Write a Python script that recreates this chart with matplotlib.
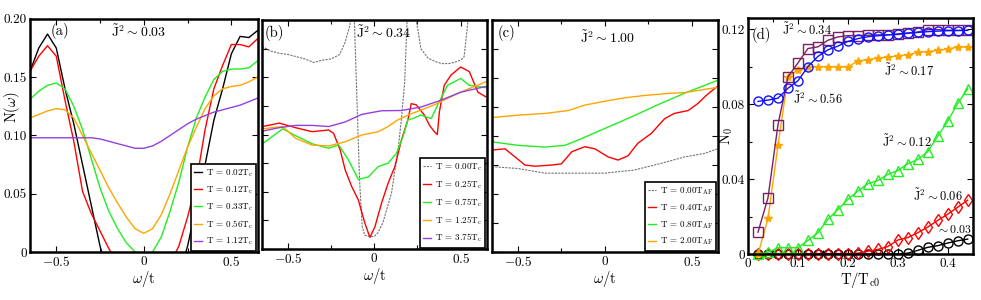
import numpy as np
import matplotlib
matplotlib.use("Agg")
import matplotlib.pyplot as plt
from matplotlib.ticker import MultipleLocator

plt.rcParams["font.family"] = "serif"
plt.rcParams["font.serif"] = ["cmr10", "DejaVu Serif"]
plt.rcParams["mathtext.fontset"] = "cm"
plt.rcParams["axes.formatter.use_mathtext"] = True
plt.rcParams.update({'font.size': 10.5})

#%% panel (a) data, J^2 ~ 0.03
omega_a = [-0.65, -0.60, -0.55, -0.50, -0.45, -0.40, -0.35, -0.30, -0.25, -0.20,
           -0.15, -0.10, -0.05, 0.0, 0.05, 0.10, 0.15, 0.20, 0.25, 0.30,
           0.35, 0.40, 0.45, 0.50, 0.55, 0.60, 0.65]
a_T002 = [0.155, 0.175, 0.187, 0.175, 0.140, 0.110, 0.075, 0.040, 0.005, -0.02,
          -0.03, -0.03, -0.03, -0.03, -0.03, -0.03, -0.03, -0.02, 0.005, 0.040,
          0.075, 0.113, 0.140, 0.170, 0.185, 0.184, 0.190]
a_T012 = [0.155, 0.168, 0.177, 0.168, 0.130, 0.095, 0.052, 0.033, 0.018, 0.003,
          -0.01, -0.02, -0.02, -0.02, -0.02, -0.02, -0.01, 0.005, 0.030, 0.060,
          0.105, 0.140, 0.160, 0.178, 0.178, 0.176, 0.183]
a_T033 = [0.131, 0.138, 0.143, 0.145, 0.140, 0.125, 0.105, 0.080, 0.055, 0.035,
          0.020, 0.008, 0.0, -0.004, 0.0, 0.013, 0.035, 0.060, 0.090, 0.115,
          0.133, 0.148, 0.155, 0.157, 0.157, 0.158, 0.164]
a_T056 = [0.115, 0.118, 0.121, 0.123, 0.122, 0.115, 0.100, 0.085, 0.070, 0.055,
          0.042, 0.030, 0.020, 0.016, 0.020, 0.032, 0.050, 0.070, 0.090, 0.107,
          0.123, 0.134, 0.140, 0.142, 0.143, 0.146, 0.150]
a_T112 = [0.098, 0.098, 0.098, 0.098, 0.098, 0.098, 0.098, 0.098, 0.097, 0.095,
          0.093, 0.091, 0.089, 0.089, 0.091, 0.095, 0.100, 0.105, 0.110, 0.114,
          0.117, 0.120, 0.122, 0.124, 0.126, 0.129, 0.132]
labels_a = ['T = 0.02T$_\\mathrm{c}$', 'T = 0.12T$_\\mathrm{c}$', 'T = 0.33T$_\\mathrm{c}$',
            'T = 0.56T$_\\mathrm{c}$', 'T = 1.12T$_\\mathrm{c}$']

#%% panel (b) data, J^2 ~ 0.34
b_x0 = [-0.65, -0.60, -0.55, -0.50, -0.45, -0.40, -0.35, -0.30, -0.25, -0.20, -0.17,
        -0.14, -0.125, -0.115, -0.10, -0.085, -0.07, -0.055, -0.03, 0.0, 0.02, 0.05,
        0.10, 0.138, 0.157, 0.176, 0.19, 0.215, 0.243, 0.27, 0.31, 0.35, 0.39, 0.43,
        0.46, 0.50, 0.52, 0.543, 0.58, 0.65]
b_T000 = [0.177, 0.173, 0.171, 0.170, 0.168, 0.166, 0.163, 0.165, 0.166, 0.170, 0.180,
          0.196, 0.30, 0.20, 0.13, 0.06, 0.02, 0.012, 0.011, 0.011, 0.014, 0.023,
          0.049, 0.087, 0.113, 0.146, 0.20, 0.30, 0.20, 0.175, 0.167, 0.164, 0.162, 0.162,
          0.163, 0.165, 0.168, 0.20, 0.30, 0.30]
b_x1 = [-0.646, -0.55, -0.455, -0.36, -0.264, -0.235, -0.197, -0.168, -0.13, -0.092,
        -0.054, -0.025, 0.004, 0.042, 0.08, 0.119, 0.157, 0.195, 0.214, 0.243, 0.29,
        0.32, 0.348, 0.365, 0.377, 0.405, 0.444, 0.50, 0.55, 0.60, 0.645]
b_T025 = [0.107, 0.110, 0.106, 0.1025, 0.104, 0.101, 0.0865, 0.069, 0.0544, 0.0428,
          0.0224, 0.0102, 0.0195, 0.040, 0.0574, 0.0719, 0.095, 0.113, 0.127, 0.126, 0.117,
          0.108, 0.1025, 0.100, 0.120, 0.143, 0.152, 0.159, 0.155, 0.137, 0.133]
b_x2 = [-0.646, -0.53, -0.455, -0.36, -0.264, -0.206, -0.149, -0.092, -0.034, 0.023,
        0.08, 0.128, 0.166, 0.195, 0.224, 0.27, 0.33, 0.367, 0.424, 0.50, 0.55, 0.606,
        0.645]
b_T075 = [0.092, 0.105, 0.099, 0.092, 0.088, 0.091, 0.0777, 0.0608, 0.063, 0.072,
          0.075, 0.0835, 0.098, 0.113, 0.114, 0.117, 0.114, 0.126, 0.143, 0.149, 0.143,
          0.1418, 0.141]
b_x3 = [-0.646, -0.53, -0.455, -0.36, -0.264, -0.168, -0.073, 0.023, 0.08, 0.138,
        0.195, 0.27, 0.348, 0.424, 0.50, 0.577, 0.645]
b_T125 = [0.105, 0.107, 0.0967, 0.0908, 0.090, 0.0937, 0.0996, 0.1025, 0.107, 0.113,
          0.117, 0.1214, 0.126, 0.1316, 0.137, 0.1418, 0.146]
b_x4 = [-0.646, -0.55, -0.455, -0.36, -0.264, -0.168, -0.073, 0.042, 0.157, 0.27,
        0.386, 0.50, 0.645]
b_T375 = [0.103, 0.106, 0.108, 0.108, 0.107, 0.111, 0.1176, 0.1208, 0.121, 0.124,
          0.130, 0.137, 0.142]
labels_b = ['T = 0.00T$_\\mathrm{c}$', 'T = 0.25T$_\\mathrm{c}$', 'T = 0.75T$_\\mathrm{c}$',
            'T = 1.25T$_\\mathrm{c}$', 'T = 3.75T$_\\mathrm{c}$']

#%% panel (c) data, J^2 ~ 1.00
c_x0 = [-0.65, -0.5, -0.345, -0.19, 0.0, 0.17, 0.326, 0.46, 0.575, 0.65]
c_T000 = [0.0736, 0.072, 0.068, 0.068, 0.068, 0.0707, 0.0765, 0.082, 0.085, 0.089]
c_x1 = [-0.65, -0.575, -0.517, -0.46, -0.40, -0.306, -0.25, -0.19, -0.115, -0.057,
        0.019, 0.077, 0.134, 0.19, 0.268, 0.345, 0.40, 0.48, 0.536, 0.584, 0.65]
c_T040 = [0.0879, 0.089, 0.082, 0.075, 0.074, 0.075, 0.076, 0.0865, 0.0908, 0.089,
          0.082, 0.0793, 0.083, 0.0937, 0.1023, 0.115, 0.1195, 0.122, 0.128, 0.135, 0.143]
c_x2 = [-0.65, -0.5, -0.345, -0.23, -0.153, 0.0, 0.153, 0.306, 0.46, 0.65]
c_T080 = [0.095, 0.092, 0.0905, 0.092, 0.0966, 0.1065, 0.1165, 0.127, 0.137, 0.148]
c_x3 = [-0.65, -0.5, -0.345, -0.21, -0.115, 0.0, 0.115, 0.23, 0.345, 0.46, 0.65]
c_T200 = [0.116, 0.118, 0.1195, 0.122, 0.1267, 0.130, 0.133, 0.135, 0.1365, 0.1375, 0.142]
labels_c = ['T = 0.00T$_\\mathrm{AF}$', 'T = 0.40T$_\\mathrm{AF}$',
            'T = 0.80T$_\\mathrm{AF}$', 'T = 2.00T$_\\mathrm{AF}$']

#%% panel (d) data
T_d = [0.02, 0.04, 0.06, 0.08, 0.10, 0.12, 0.14, 0.16, 0.18, 0.20, 0.22,
       0.24, 0.26, 0.28, 0.30, 0.32, 0.34, 0.36, 0.38, 0.40, 0.42, 0.44]
N_056 = [0.0815, 0.0822, 0.0832, 0.0885, 0.0925, 0.100, 0.1055, 0.109, 0.111, 0.1135, 0.115,
         0.116, 0.1165, 0.117, 0.1175, 0.118, 0.1183, 0.1187, 0.119, 0.1192, 0.1193, 0.1194]
N_034 = [0.0117, 0.030, 0.069, 0.0946, 0.102, 0.1097, 0.1106, 0.1141, 0.1159, 0.1166, 0.1166,
         0.1168, 0.117, 0.117, 0.1172, 0.1178, 0.1185, 0.1198, 0.1198, 0.1195, 0.1194, 0.1194]
N_017 = [0.0, 0.019, 0.058, 0.0944, 0.0985, 0.0999, 0.0999, 0.0999, 0.0999, 0.0999, 0.103,
         0.1038, 0.1047, 0.105, 0.1058, 0.1064, 0.1076, 0.1081, 0.1087, 0.1095, 0.1104, 0.1106]
N_012 = [0.0, 0.001, 0.0034, 0.0034, 0.0034, 0.0073, 0.0114, 0.0185, 0.0238, 0.0292, 0.0336,
         0.0375, 0.0393, 0.0425, 0.0446, 0.0482, 0.0505, 0.0546, 0.0629, 0.0709, 0.0804, 0.0882]
N_006 = [0.0, 0.0, 0.0, 0.0, 0.0, 0.0, 0.0, 0.0, 0.0, 0.0, 0.0005,
         0.0015, 0.0025, 0.004, 0.0075, 0.0088, 0.0114, 0.0144, 0.018, 0.0213, 0.025, 0.0288]
N_003 = [0.0, 0.0, 0.0, 0.0, 0.0, 0.0, 0.0, 0.0, 0.0, 0.0, 0.0,
         0.0, 0.0, 0.0, 0.0, 0.0005, 0.002, 0.0036, 0.0045, 0.0059, 0.0071, 0.008]

purple = '#9440e0'
green = '#22ee22'
orange = '#ffa500'
dot = dict(color='0.45', linestyle=(0, (2, 1)), linewidth=0.8)

fig = plt.figure(figsize=(9.81, 3.0), dpi=100)
ax1 = fig.add_axes([0.0306, 0.160, 0.232, 0.777])
ax2 = fig.add_axes([0.267, 0.170, 0.229, 0.763])
ax3 = fig.add_axes([0.5015, 0.160, 0.230, 0.773])
ax4 = fig.add_axes([0.7625, 0.153, 0.229, 0.787])


def style(ax):
    for s in ax.spines.values():
        s.set_linewidth(1.8)
    ax.tick_params(which='both', direction='in', top=True, right=True, labelsize=9.5, pad=2.5)
    ax.tick_params(which='major', length=4, width=0.8)
    ax.tick_params(which='minor', length=3, width=0.8)


def legend(ax, fs=6.5):
    lg = ax.legend(loc='lower right', fontsize=fs, fancybox=False, framealpha=1,
                   handlelength=0.9, handletextpad=0.45, labelspacing=0.6,
                   borderaxespad=0.15, borderpad=0.35)
    lg.get_frame().set_edgecolor('k')
    lg.get_frame().set_linewidth(1.2)


xt = [-0.5, 0, 0.5]
xtl = ['$-0.5$', '$0$', '$0.5$']

#%% (a)
lw = 1.0
ax1.plot(omega_a, a_T002, color='k', lw=lw, label=labels_a[0])
ax1.plot(omega_a, a_T012, color='r', lw=lw, label=labels_a[1])
ax1.plot(omega_a, a_T033, color=green, lw=lw, label=labels_a[2])
ax1.plot(omega_a, a_T056, color=orange, lw=lw, label=labels_a[3])
ax1.plot(omega_a, a_T112, color=purple, lw=lw, label=labels_a[4])
ax1.set_xlim(-0.65, 0.65)
ax1.set_ylim(0, 0.2)
ax1.set_xticks(xt, labels=xtl)
ax1.set_yticks([0, 0.05, 0.10, 0.15, 0.20], labels=['0', '0.05', '0.10', '0.15', '0.20'])
ax1.xaxis.set_minor_locator(MultipleLocator(0.25))
ax1.set_xlabel(r'$\omega/\mathrm{t}$', labelpad=0)
ax1.set_ylabel(r'N($\omega$)')
ax1.yaxis.set_label_coords(-0.035, 0.62)
ax1.text(-0.53, 0.19, '(a)', va='center')
ax1.text(-0.19, 0.189, r'$\tilde{\mathrm{J}}^2\sim 0.03$', va='center', fontsize=10)
style(ax1)
legend(ax1)

#%% (b)
ax2.plot(b_x0, b_T000, label=labels_b[0], **dot)
ax2.plot(b_x1, b_T025, color='r', lw=lw, label=labels_b[1])
ax2.plot(b_x2, b_T075, color=green, lw=lw, label=labels_b[2])
ax2.plot(b_x3, b_T125, color=orange, lw=lw, label=labels_b[3])
ax2.plot(b_x4, b_T375, color=purple, lw=lw, label=labels_b[4])
ax2.set_xlim(-0.65, 0.65)
ax2.set_ylim(0, 0.2)
ax2.set_xticks(xt, labels=xtl)
ax2.xaxis.set_minor_locator(MultipleLocator(0.25))
ax2.yaxis.set_major_locator(MultipleLocator(0.025))
ax2.set_yticklabels([])
ax2.set_xlabel(r'$\omega/\mathrm{t}$', labelpad=0)
ax2.text(-0.635, 0.189, '(b)', va='center')
ax2.text(-0.105, 0.189, r'$\tilde{\mathrm{J}}^2\sim 0.34$', va='center', fontsize=10)
style(ax2)
legend(ax2)

#%% (c)
ax3.plot(c_x0, c_T000, label=labels_c[0], **dot)
ax3.plot(c_x1, c_T040, color='r', lw=lw, label=labels_c[1])
ax3.plot(c_x2, c_T080, color=green, lw=lw, label=labels_c[2])
ax3.plot(c_x3, c_T200, color=orange, lw=lw, label=labels_c[3])
ax3.set_xlim(-0.65, 0.65)
ax3.set_ylim(0, 0.2)
ax3.set_xticks(xt, labels=xtl)
ax3.xaxis.set_minor_locator(MultipleLocator(0.25))
ax3.yaxis.set_major_locator(MultipleLocator(0.025))
ax3.set_yticklabels([])
ax3.set_xlabel(r'$\omega/\mathrm{t}$', labelpad=0)
ax3.text(-0.62, 0.189, '(c)', va='center')
ax3.text(-0.145, 0.185, r'$\tilde{\mathrm{J}}^2\sim 1.00$', va='center', fontsize=10)
style(ax3)
legend(ax3)

#%% (d)
mk = dict(lw=1.0, markersize=6.5, markerfacecolor='none', markeredgewidth=1.0, clip_on=False)
ax4.plot(T_d, N_003, '-o', color='k', **mk)
ax4.plot(T_d, N_006, '-d', color='r', **mk)
ax4.plot(T_d, N_012, '-^', color=green, **mk)
ax4.plot(T_d, N_017, '-*', color=orange, lw=1.0, markersize=6, clip_on=False)
ax4.plot(T_d, N_034, '-s', color='#7a1f66', **mk)
ax4.plot(T_d, N_056, '-o', color='#1010ff', **mk)
ax4.set_xlim(0, 0.45)
ax4.set_ylim(0, 0.126)
ax4.set_xticks([0, 0.1, 0.2, 0.3, 0.4], labels=['0', '0.1', '0.2', '0.3', '0.4'])
ax4.set_yticks([0, 0.04, 0.08, 0.12], labels=['0', '0.04', '0.08', '0.12'])
ax4.xaxis.set_minor_locator(MultipleLocator(0.05))
ax4.yaxis.set_minor_locator(MultipleLocator(0.02))
ax4.set_xlabel(r'T/T$_\mathrm{c0}$', labelpad=0)
ax4.set_ylabel(r'N$_0$')
ax4.yaxis.set_label_coords(-0.06, 0.5)
ax4.text(0.008, 0.117, '(d)', va='center')
ax4.text(0.068, 0.1195, r'$\tilde{\mathrm{J}}^2\sim 0.34$', va='center', fontsize=9)
ax4.text(0.272, 0.098, r'$\tilde{\mathrm{J}}^2\sim 0.17$', va='center', fontsize=9)
ax4.text(0.09, 0.083, r'$\tilde{\mathrm{J}}^2\sim 0.56$', va='center', fontsize=9)
ax4.text(0.268, 0.060, r'$\tilde{\mathrm{J}}^2\sim 0.12$', va='center', fontsize=9)
ax4.text(0.33, 0.031, r'$\tilde{\mathrm{J}}^2\sim 0.06$', va='center', fontsize=9)
ax4.text(0.376, 0.0135, r'$\sim 0.03$', va='center', fontsize=8.5)
style(ax4)

fig.savefig('out.png', dpi=100)
